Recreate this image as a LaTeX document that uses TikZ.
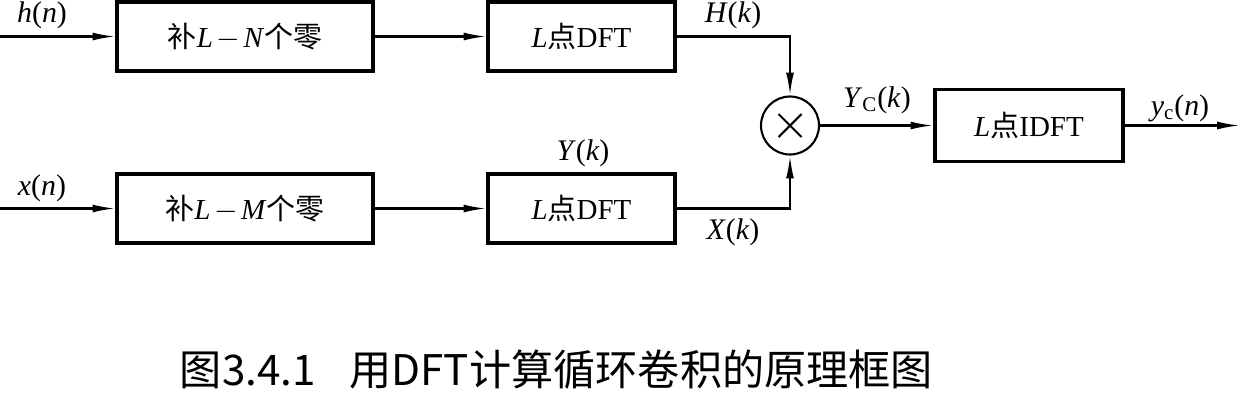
\documentclass[tikz,border=0pt]{standalone}
\usepackage{fontspec}
\setmainfont{Liberation Serif}
\newfontfamily\cjk{Noto Sans CJK SC}
\usetikzlibrary{arrows.meta}
\tikzset{
  block/.style={draw, line width=1.8pt, minimum height=1.38cm, inner sep=0pt,
    font=\fontsize{16.5}{19}\selectfont},
  sig/.style={line width=1.2pt, -{Latex[length=13pt,width=4.5pt]}},
  lbl/.style={font=\fontsize{17}{20}\selectfont, inner sep=0pt},
}
\newcommand{\minusgap}{\kern2pt$-$\kern2pt}
\begin{document}
\begin{tikzpicture}
    \useasboundingbox (0,0) rectangle (24.8,8.3);

    % Define the blocks
    \node[block, minimum width=5.12cm] (padh) at (4.90,7.57) {{\cjk 补}\textit{L}\minusgap\textit{N}{\cjk 个零}};
    \node[block, minimum width=5.12cm] (padx) at (4.90,4.13) {{\cjk 补}\textit{L}\minusgap\textit{M}{\cjk 个零}};
    \node[block, minimum width=3.74cm] (dfth) at (11.63,7.57) {\textit{L}{\cjk 点}DFT};
    \node[block, minimum width=3.74cm] (dftx) at (11.63,4.13) {\textit{L}{\cjk 点}DFT};
    \node[draw, circle, line width=1.2pt, minimum size=1.16cm, inner sep=0pt] (mul) at (15.8,5.79) {};
    \node[block, minimum width=3.76cm, minimum height=1.44cm] (idft) at (20.58,5.79) {\textit{L}{\cjk 点}IDFT};

    % Free ends of the signal lines
    \coordinate (hin) at (0,7.57);
    \coordinate (xin) at (0,4.13);
    \coordinate (yout) at (24.8,5.79);

    % Draw the signal lines
    \draw[sig] (hin) -- (padh);
    \draw[sig] (xin) -- (padx);
    \draw[sig] (padh) -- (dfth);
    \draw[sig] (padx) -- (dftx);
    \draw[sig] (dfth.east) -| (mul.north);
    \draw[sig] (dftx.east) -| (mul.south);
    \draw[sig] (mul) -- (idft);
    \draw[sig] (idft) -- (yout);

    % The multiplier cross
    \draw[line width=1.2pt] (mul.center) +(-0.23,-0.23) -- +(0.23,0.23);
    \draw[line width=1.2pt] (mul.center) +(-0.23,0.23) -- +(0.23,-0.23);

    % Signal labels
    \node[lbl] (hn) at (0.84,8.0) {\textit{h}(\textit{n})};
    \node[lbl] (xn) at (0.84,4.54) {\textit{x}(\textit{n})};
    \node[lbl] (Hk) at (14.66,8.0) {\textit{H}(\textit{k})};
    \node[lbl] (Yk) at (11.66,5.24) {\textit{Y}(\textit{k})};
    \node[lbl] (Xk) at (14.66,3.66) {\textit{X}(\textit{k})};
    \node[lbl] (Yck) at (17.54,6.3) {\textit{Y}\textsubscript{C}(\textit{k})};
    \node[lbl] (ycn) at (23.6,6.14) {\textit{y}\textsubscript{c}(\textit{n})};

    % Caption
    \node[font=\cjk\fontsize{24}{28}\selectfont, inner sep=0pt] (cap) at (11.13,0.9)
        {图3.4.1\hspace{0.8em}用DFT计算循环卷积的原理框图};
\end{tikzpicture}
\end{document}
